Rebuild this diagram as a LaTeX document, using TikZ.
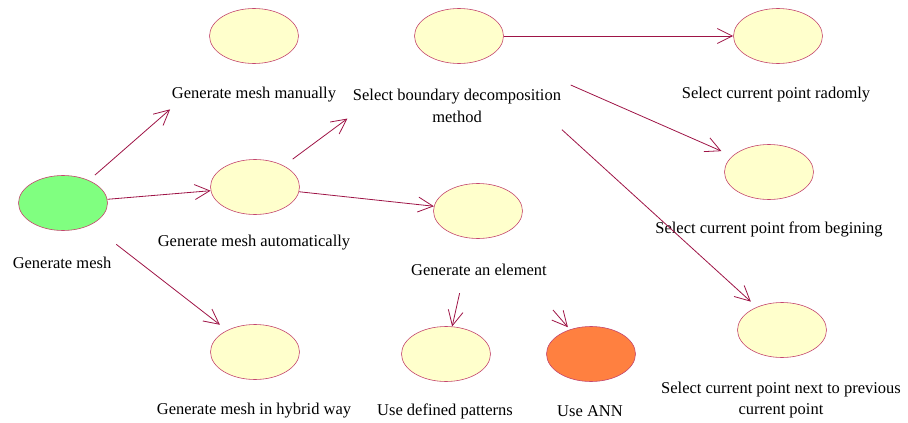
\documentclass[tikz,border=0pt]{standalone}
\usepackage{fontspec}
\setmainfont{Liberation Serif}
\usetikzlibrary{shapes.geometric,arrows.meta}

\definecolor{linkred}{RGB}{158,20,70}
\definecolor{ucborder}{RGB}{196,70,110}
\definecolor{ucfill}{RGB}{255,255,204}
\definecolor{ucgreen}{RGB}{128,255,128}
\definecolor{ucorange}{RGB}{255,128,64}

\tikzset{
  usecase/.style={ellipse, draw=ucborder, line width=0.6pt, fill=ucfill,
    minimum width=89pt, minimum height=55pt, inner sep=0pt},
  uclabel/.style={font=\fontsize{16.5}{21.5}\selectfont, align=center, inner sep=0pt},
  link/.style={draw=linkred, line width=0.8pt,
    -{Straight Barb[length=15pt,width=15pt,line width=0.8pt]}}
}

\begin{document}
\begin{tikzpicture}[x=1pt,y=-1pt]
\useasboundingbox (0,0) rectangle (908,423);

% use cases
\node[usecase, fill=ucgreen]  (gm)     at (63,203)  {};
\node[usecase]                (manual) at (254,36)  {};
\node[usecase]                (auto)   at (255,187) {};
\node[usecase]                (hybrid) at (255,352) {};
\node[usecase]                (bound)  at (459,36)  {};
\node[usecase]                (elem)   at (478,211) {};
\node[usecase]                (pat)    at (446,354) {};
\node[usecase, fill=ucorange] (ann)    at (591,354) {};
\node[usecase]                (rand)   at (778,36)  {};
\node[usecase]                (begin)  at (769,172) {};
\node[usecase]                (next)   at (782,330) {};

% captions
\node[uclabel] (gmL)     at (62,263)  {Generate mesh};
\node[uclabel] (manualL) at (254,95)  {Generate mesh manually};
\node[uclabel] (autoL)   at (254,243) {Generate mesh automatically};
\node[uclabel] (hybridL) at (254,411) {Generate mesh in hybrid way};
\node[uclabel] (boundL)  at (457,106) {Select boundary decomposition\\method};
\node[uclabel] (elemL)   at (479,270) {Generate an element};
\node[uclabel] (patL)    at (445,411) {Use defined patterns};
\node[uclabel] (annL)    at (590,411) {Use ANN};
\node[uclabel] (randL)   at (776,95)  {Select current point radomly};
\node[uclabel] (beginL)  at (769,229) {Select current point from begining};
\node[uclabel] (nextL)   at (781,400) {Select current point next to previous\\current point};

% relations
\draw[link, shorten <=8pt, shorten >=77pt] (gm) -- (manual);
\draw[link] (gm) -- (auto);
\draw[link, shorten <=32pt, shorten >=9pt] (gm) -- (hybrid);
\draw[link, shorten <=11pt, shorten >=103pt] (auto) -- (bound);
\draw[link] (auto) -- (elem);
\draw[link] (bound) -- (rand);
\draw[link, shorten <=82pt, shorten >=12pt] (bound) -- (begin);
\draw[link, shorten <=105pt, shorten >=8pt] (bound) -- (next);
\draw[link, shorten <=56pt] (elem) -- (pat);
\coordinate (annsrc) at (553,310);
\draw[link, shorten >=3pt] (annsrc) -- (ann);
\end{tikzpicture}
\end{document}
